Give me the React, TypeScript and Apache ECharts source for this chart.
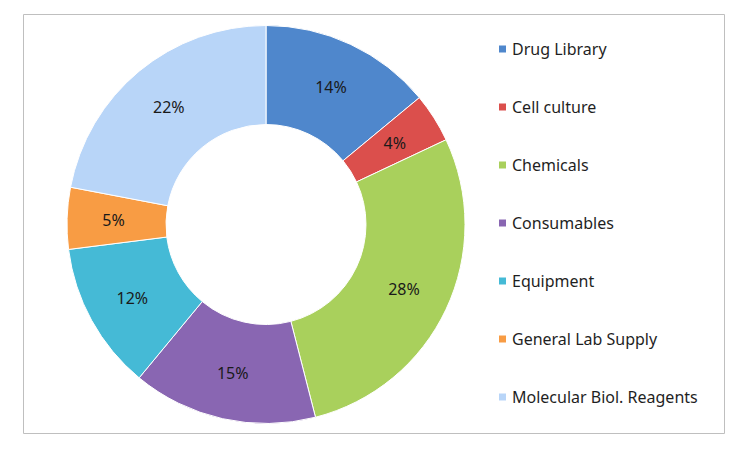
import React, { useEffect, useRef } from "react";
import * as echarts from "echarts";

const categories = [
  "Drug Library",
  "Cell culture",
  "Chemicals",
  "Consumables",
  "Equipment",
  "General Lab Supply",
  "Molecular Biol. Reagents",
];
const values = [14, 4, 28, 15, 12, 5, 22];
const colors = ["#4f87cc", "#db4f4c", "#a9d05c", "#8966b2", "#45bad6", "#f89c44", "#b8d5f8"];

export default function App() {
  const ref = useRef<HTMLDivElement>(null);
  useEffect(() => {
    document.body.style.margin = "0";
    const chart = echarts.init(ref.current!, null, { renderer: "svg" });
    chart.setOption({
      animation: false,
      backgroundColor: "#ffffff",
      color: colors,
      graphic: [
        {
          type: "rect",
          shape: { x: 23.5, y: 14.5, width: 701, height: 419 },
          style: { fill: "none", stroke: "#bfbfbf", lineWidth: 1 },
          silent: true,
        },
      ],
      legend: {
        orient: "vertical",
        left: 497,
        top: 40,
        padding: 0,
        icon: "rect",
        itemWidth: 9,
        itemHeight: 9,
        itemGap: 40,
        textStyle: {
          fontFamily: "Noto Sans",
          fontSize: 16,
          color: "#1f1f1f",
          lineHeight: 18,
        },
        data: categories,
      },
      series: [
        {
          type: "pie",
          center: [266, 224.5],
          radius: [100, 199],
          startAngle: 90,
          clockwise: true,
          avoidLabelOverlap: false,
          itemStyle: { borderColor: "#ffffff", borderWidth: 1 },
          label: {
            show: true,
            position: "inside",
            formatter: "{c}%",
            fontFamily: "Noto Sans",
            fontSize: 16,
            color: "#1a1a1a",
            padding: [4, 0, 0, 0],
          },
          labelLine: { show: false },
          emphasis: { disabled: true },
          data: categories.map((name, i) => ({ name, value: values[i] })),
        },
      ],
    });
    return () => chart.dispose();
  }, []);
  return <div ref={ref} style={{ width: 746, height: 450 }} />;
}
